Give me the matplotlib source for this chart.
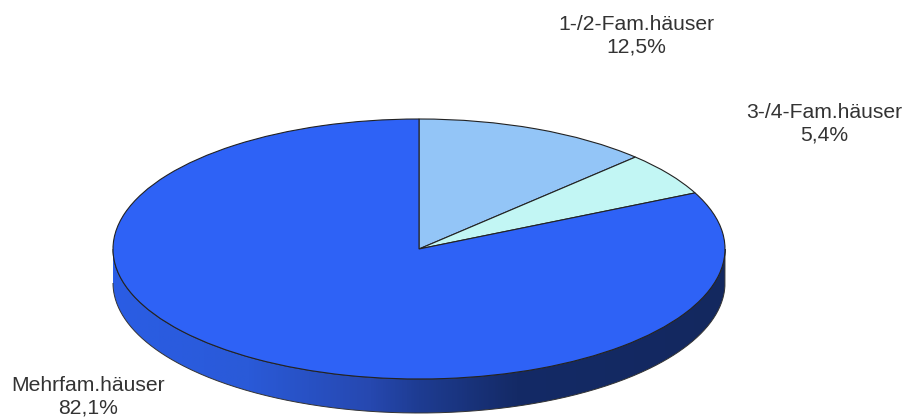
import numpy as np
import matplotlib
matplotlib.use("Agg")
import matplotlib.pyplot as plt
from matplotlib.colors import LinearSegmentedColormap
from matplotlib.patches import PathPatch
from matplotlib.path import Path

categories = ["1-/2-Fam.häuser", "3-/4-Fam.häuser", "Mehrfam.häuser"]
values = [12.5, 5.4, 82.1]
value_labels = ["12,5%", "5,4%", "82,1%"]
colors = ["#93C5F7", "#C2F6F4", "#2E62F6"]
label_px = [(636, 35.5), (824, 123.5), (88, 396.5)]

W, H = 909, 420
CX, CY, RX, RY, DEPTH = 419, 249, 306, 130, 34

fig = plt.figure(figsize=(W / 100, H / 100), dpi=100, facecolor="white")
ax = fig.add_axes([0, 0, 1, 1])

xlim = (-CX / RX, (W - CX) / RX)
ylim = ((CY - H) / RY, CY / RY)

# rim (side of the disc) with a horizontal gradient
d = DEPTH / RY
t = np.linspace(np.pi, 2 * np.pi, 400)
rim = np.column_stack([
    np.r_[np.cos(t), np.cos(t[::-1])],
    np.r_[np.sin(t), np.sin(t[::-1]) - d],
])
cmap = LinearSegmentedColormap.from_list("rim", [
    (0.00, "#2A5DE4"), (0.22, "#2A5AD8"), (0.42, "#2648B0"),
    (0.50, "#1E3C92"), (0.66, "#142A66"), (1.00, "#13285F"),
])
im = ax.imshow(np.linspace(0, 1, 512)[None, :], cmap=cmap, aspect="auto",
               extent=(-1, 1, -1 - d, 0), zorder=1)
rim_patch = PathPatch(Path(rim), facecolor="none", edgecolor="#333333", lw=0.7, zorder=2)
ax.add_patch(rim_patch)
im.set_clip_path(rim_patch)

# top face
ax.pie(values, colors=colors, startangle=90, counterclock=False, radius=1,
       wedgeprops=dict(edgecolor="#222222", linewidth=0.8, zorder=3))
ax.set_aspect("auto")
ax.set_xlim(*xlim)
ax.set_ylim(*ylim)
ax.axis("off")

for name, val, (px, py) in zip(categories, value_labels, label_px):
    ax.text((px - CX) / RX, (CY - py) / RY, f"{name}\n{val}", ha="center", va="center",
            family=["Liberation Sans", "DejaVu Sans"], fontsize=15.2, color="#333333",
            linespacing=1.25)

fig.savefig("out.png", dpi=100, facecolor="white")
